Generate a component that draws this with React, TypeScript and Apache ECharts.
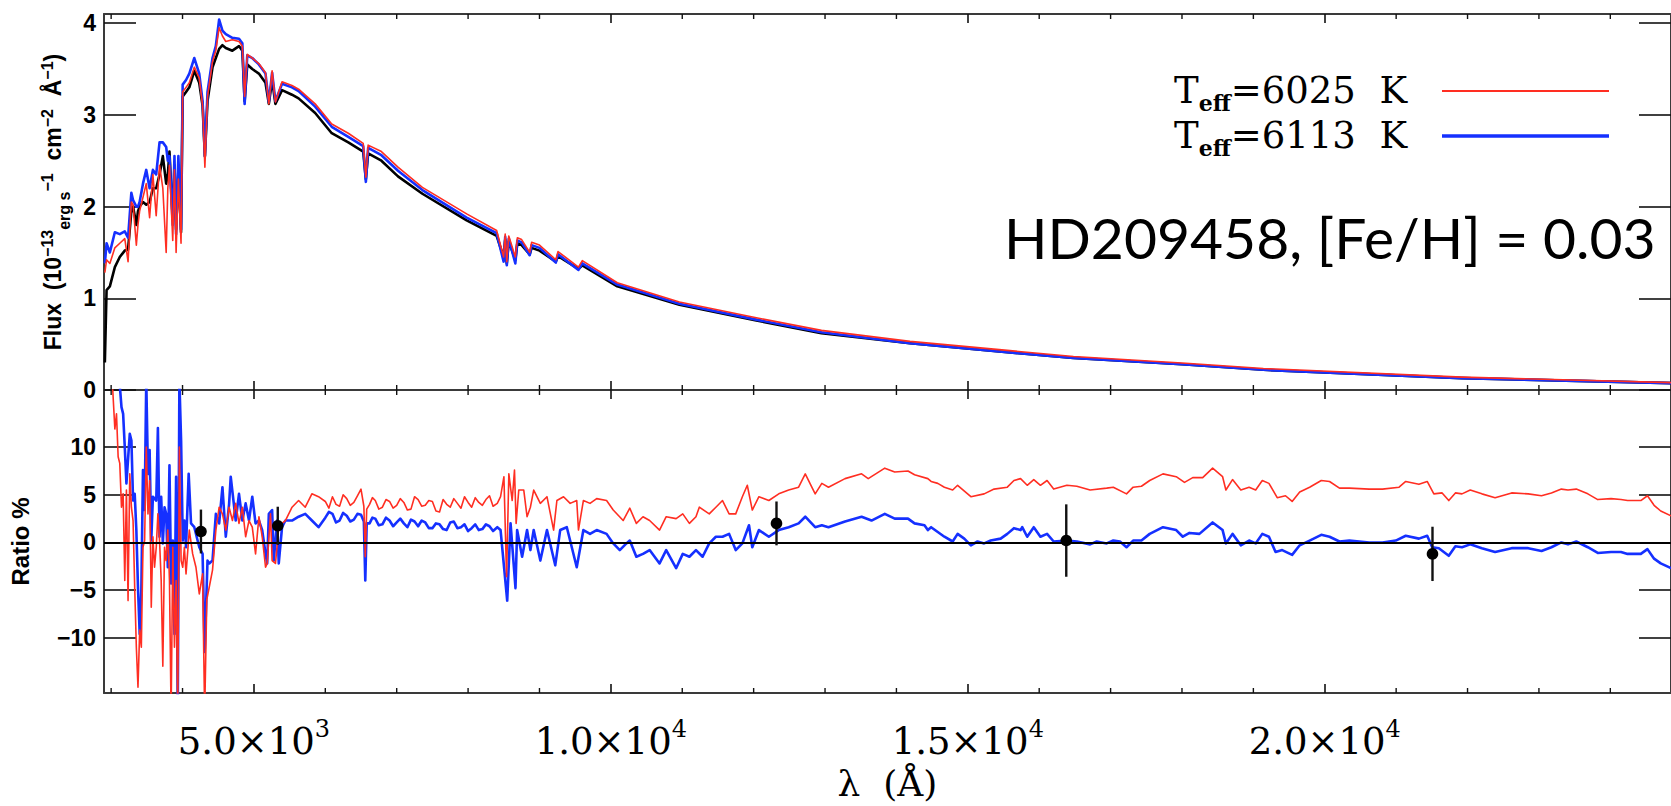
import React, { useEffect, useRef } from 'react';
import * as echarts from 'echarts';

// ---------- data ----------
const FLUX_WAVE = [2912, 2936, 2982, 3052, 3121, 3191, 3237, 3283, 3307, 3353, 3376, 3399, 3446, 3492, 3539, 3585, 3631, 3678, 3724, 3771, 3794, 3817, 3863, 3887, 3910, 3942, 3979, 4002, 4049, 4095, 4165, 4234, 4281, 4313, 4350, 4420, 4466, 4513, 4559, 4606, 4698, 4791, 4838, 4870, 4907, 4977, 5069, 5162, 5209, 5255, 5301, 5394, 5533, 5626, 5858, 6090, 6322, 6531, 6568, 6600, 6786, 7018, 7360, 7980, 8400, 8498, 8520, 8542, 8570, 8662, 8690, 8750, 8863, 8890, 9000, 9229, 9260, 9546, 9600, 10090, 10960, 12020, 12950, 14190, 15440, 16480, 18000, 19140, 21920, 24850];
const FLUX_OBSERVED = [0.30, 1.09, 1.13, 1.34, 1.45, 1.52, 1.53, 1.95, 2.00, 1.80, 1.95, 2.00, 2.05, 2.02, 2.05, 2.20, 2.20, 2.35, 2.55, 2.25, 2.35, 2.60, 1.85, 2.45, 1.75, 2.40, 1.72, 3.20, 3.25, 3.30, 3.48, 3.35, 3.10, 2.55, 3.15, 3.52, 3.62, 3.72, 3.76, 3.73, 3.70, 3.75, 3.70, 3.15, 3.55, 3.50, 3.45, 3.35, 3.12, 3.38, 3.12, 3.27, 3.22, 3.18, 3.02, 2.80, 2.70, 2.60, 2.30, 2.58, 2.50, 2.33, 2.14, 1.85, 1.68, 1.45, 1.64, 1.38, 1.62, 1.42, 1.60, 1.58, 1.48, 1.55, 1.52, 1.40, 1.46, 1.32, 1.36, 1.13, 0.93, 0.76, 0.62, 0.51, 0.42, 0.35, 0.28, 0.22, 0.13, 0.075];
const FLUX_6113 = [1.38, 1.60, 1.50, 1.72, 1.70, 1.73, 1.66, 2.15, 2.07, 2.00, 2.00, 2.05, 2.25, 2.40, 2.20, 2.40, 2.35, 2.70, 2.70, 2.65, 2.50, 2.55, 1.80, 2.55, 1.70, 2.55, 1.75, 3.33, 3.38, 3.45, 3.62, 3.45, 3.15, 2.55, 3.25, 3.62, 3.75, 4.04, 3.92, 3.88, 3.84, 3.83, 3.78, 3.12, 3.65, 3.62, 3.55, 3.45, 3.14, 3.46, 3.15, 3.34, 3.30, 3.26, 3.09, 2.87, 2.76, 2.66, 2.27, 2.64, 2.56, 2.39, 2.18, 1.88, 1.71, 1.40, 1.67, 1.36, 1.65, 1.38, 1.63, 1.61, 1.47, 1.58, 1.55, 1.39, 1.48, 1.31, 1.38, 1.15, 0.94, 0.77, 0.63, 0.51, 0.42, 0.35, 0.28, 0.22, 0.13, 0.075];
const FLUX_6025 = [1.28, 1.42, 1.38, 1.55, 1.60, 1.65, 1.40, 2.05, 2.02, 1.58, 1.80, 1.95, 2.10, 2.25, 1.88, 2.35, 1.90, 2.45, 2.20, 1.50, 2.20, 2.45, 1.63, 2.40, 1.50, 2.30, 1.60, 3.25, 3.30, 3.35, 3.52, 3.40, 3.10, 2.43, 3.20, 3.58, 3.70, 3.95, 3.86, 3.80, 3.82, 3.80, 3.75, 3.20, 3.66, 3.62, 3.56, 3.46, 3.12, 3.48, 3.14, 3.36, 3.32, 3.28, 3.12, 2.90, 2.80, 2.69, 2.32, 2.67, 2.60, 2.43, 2.21, 1.92, 1.74, 1.45, 1.70, 1.40, 1.68, 1.45, 1.66, 1.64, 1.50, 1.61, 1.58, 1.42, 1.51, 1.34, 1.41, 1.17, 0.96, 0.79, 0.65, 0.53, 0.44, 0.365, 0.295, 0.235, 0.14, 0.08];

const RATIO_6025: [number, number][] = [
  [2950, 20], [3019, 16.5], [3052, 11.9], [3075, 13.5], [3098, 9.0], [3121, 8.3], [3145, 3.7], [3168, 5.1], [3191, -4.0], [3214, 5.5],
  [3237, -6.1], [3261, 7.2], [3284, 3.7], [3307, 2.3], [3330, -4.7], [3353, -11.0], [3376, -15.2], [3400, -9.2], [3423, -11.0], [3446, -0.5],
  [3469, 0.2], [3492, 10.0], [3516, 3.0], [3539, 6.5], [3562, -6.8], [3585, 0.6], [3608, -2.6], [3632, -0.5], [3655, 3.0], [3678, 0.2],
  [3701, -4.0], [3724, -13.0], [3748, -0.5], [3771, -1.9], [3794, 1.3], [3817, -4.0], [3840, -18], [3864, -0.5], [3887, -11.0], [3910, -4.0],
  [3933, -18], [3956, 10.0], [3980, -1.9], [4003, -2.6], [4026, -0.5], [4049, -3.3], [4095, 1.3], [4142, -1.2], [4188, -2.6], [4235, -5.4],
  [4281, -3.3], [4310, -18], [4340, -6.0], [4374, -4.7], [4420, -2.9], [4467, 1.3], [4513, 3.7], [4559, 3.0], [4606, 1.3], [4652, 3.7],
  [4699, 2.3], [4745, 4.1], [4791, 2.0], [4838, 3.7], [4884, 0.6], [4931, 2.3], [4977, 1.6], [5023, -1.2], [5070, 2.7], [5116, 0.6],
  [5163, -2.6], [5186, -2.2], [5232, 3.0], [5255, -1.9], [5302, -2.2], [5348, 1.6], [5394, 2.0], [5441, 2.3], [5534, 3.7], [5626, 4.4],
  [5719, 3.7], [5812, 5.1], [5905, 4.8], [6000, 4.3], [6050, 3.6], [6100, 4.8], [6150, 4.0], [6200, 3.8], [6250, 5.0], [6300, 4.6],
  [6350, 3.9], [6400, 4.2], [6450, 4.9], [6500, 5.6], [6540, 3.8], [6560, -1.5], [6580, 3.5], [6620, 4.0], [6660, 4.7], [6700, 4.4],
  [6750, 3.5], [6800, 3.7], [6850, 4.5], [6900, 4.3], [6950, 3.6], [7000, 3.9], [7050, 4.6], [7100, 4.2], [7150, 3.4], [7200, 3.5],
  [7250, 4.8], [7300, 4.5], [7350, 3.8], [7400, 3.9], [7450, 4.4], [7500, 4.3], [7550, 3.3], [7600, 3.2], [7650, 4.5], [7700, 4.0],
  [7750, 3.7], [7800, 4.6], [7850, 4.1], [7900, 3.6], [7950, 4.8], [8000, 4.2], [8050, 3.7], [8100, 4.7], [8150, 4.2], [8200, 3.9],
  [8250, 4.5], [8300, 4.9], [8350, 3.8], [8409, 4.1], [8455, 4.8], [8502, 6.9], [8539, -3.6], [8571, 7.2], [8618, 4.4], [8650, 7.6],
  [8673, 2.0], [8710, 5.5], [8780, 5.5], [8826, 2.7], [8873, 3.7], [8919, 5.5], [9012, 4.1], [9105, 4.8], [9198, 1.3], [9244, 4.4],
  [9337, 4.8], [9430, 4.1], [9522, 4.4], [9546, 1.3], [9615, 4.4], [9708, 4.1], [9801, 4.6], [9940, 4.4], [10033, 3.4], [10172, 2.3],
  [10265, 3.6], [10357, 2.0], [10450, 2.7], [10543, 2.3], [10682, 1.3], [10775, 2.7], [10914, 2.5], [11007, 3.0], [11100, 2.0], [11192, 2.7],
  [11239, 3.7], [11378, 3.0], [11471, 3.7], [11564, 4.4], [11656, 3.0], [11749, 3.0], [11842, 4.8], [11911, 6.0], [11981, 3.4], [12074, 4.8],
  [12213, 4.4], [12352, 5.1], [12491, 5.5], [12630, 5.8], [12723, 7.2], [12862, 5.1], [12955, 6.2], [13048, 5.8], [13280, 6.7], [13512, 7.2],
  [13605, 6.7], [13837, 7.8], [13976, 7.4], [14162, 7.5], [14254, 7.1], [14440, 6.7], [14486, 6.4], [14579, 6.2], [14672, 5.8], [14788, 5.5],
  [14857, 6.0], [15043, 4.8], [15229, 5.1], [15368, 5.6], [15553, 5.8], [15646, 6.5], [15739, 6.7], [15832, 6.0], [15924, 6.6], [16017, 6.0],
  [16110, 6.5], [16203, 5.6], [16388, 6.0], [16527, 5.9], [16713, 5.5], [16945, 5.7], [17038, 5.8], [17223, 5.1], [17316, 5.8], [17432, 5.9],
  [17548, 6.5], [17734, 7.2], [17919, 6.9], [18035, 6.3], [18151, 6.8], [18290, 6.8], [18429, 7.8], [18569, 6.9], [18615, 5.5], [18708, 6.6],
  [18824, 5.5], [18940, 5.8], [19032, 5.5], [19125, 6.5], [19218, 6.2], [19334, 4.7], [19450, 4.9], [19543, 4.3], [19649, 5.3], [19788, 5.8],
  [19951, 6.5], [20067, 6.4], [20206, 5.7], [20345, 5.7], [20623, 5.6], [20809, 5.6], [21041, 5.8], [21134, 6.4], [21319, 6.1], [21435, 6.4],
  [21528, 5.1], [21644, 5.2], [21737, 4.4], [21830, 5.2], [21922, 5.1], [22038, 5.5], [22201, 5.1], [22386, 4.7], [22618, 5.2], [22850, 5.1],
  [23036, 4.9], [23175, 5.2], [23314, 5.6], [23407, 5.5], [23523, 5.6], [23685, 5.1], [23824, 4.5], [24010, 4.6], [24149, 4.5], [24242, 4.4],
  [24427, 4.4], [24520, 4.9], [24613, 3.9], [24706, 3.3], [24850, 2.8],
];

const RATIO_6113: [number, number][] = [
  [2950, 20], [3121, 16.5], [3145, 14.2], [3168, 13.5], [3191, 10.0], [3214, 6.2], [3261, 11.4], [3284, 10.7], [3307, 4.4], [3330, 5.1],
  [3353, 1.3], [3376, -4.7], [3400, -9.6], [3423, -5.0], [3446, 7.6], [3469, 3.4], [3492, 17], [3516, 7.2], [3539, 9.7], [3562, 0.2],
  [3585, 4.8], [3632, 4.4], [3655, 12.0], [3678, 0.6], [3701, 4.8], [3724, -0.1], [3748, 3.7], [3771, 3.0], [3794, -2.6], [3817, 8.1],
  [3840, -4.3], [3864, 0.2], [3887, -9.6], [3910, 6.9], [3933, -18], [3956, 17], [3980, 10.7], [4003, 0.2], [4026, 2.3], [4049, -0.5],
  [4086, 7.2], [4119, 2.0], [4165, 1.6], [4235, -0.5], [4281, -1.2], [4310, -11.5], [4350, -1.9], [4374, -2.2], [4420, -1.9], [4467, 3.0],
  [4513, 2.0], [4559, 5.8], [4606, 0.6], [4652, 4.0], [4675, 6.9], [4745, 2.3], [4791, 5.1], [4838, 2.3], [4884, 4.1], [4931, 2.3],
  [4977, 4.8], [5023, 2.0], [5070, 2.3], [5116, 1.3], [5163, -1.2], [5186, -2.2], [5209, 3.0], [5255, 3.4], [5278, -1.9], [5325, 2.3],
  [5348, -2.2], [5394, 1.6], [5441, 2.3], [5534, 2.3], [5626, 2.7], [5719, 3.0], [5812, 2.3], [5905, 1.6], [6000, 2.6], [6050, 3.2],
  [6100, 3.0], [6150, 2.1], [6200, 2.3], [6250, 3.1], [6300, 2.8], [6350, 2.2], [6400, 2.4], [6450, 3.0], [6500, 2.9], [6540, 2.2],
  [6560, -4.0], [6580, 2.0], [6620, 2.0], [6660, 2.6], [6700, 2.5], [6750, 1.8], [6800, 1.9], [6850, 2.6], [6900, 2.3], [6950, 1.7],
  [7000, 2.1], [7050, 2.5], [7100, 2.0], [7150, 1.6], [7200, 2.4], [7250, 2.2], [7300, 1.7], [7350, 2.3], [7400, 2.1], [7450, 1.5],
  [7500, 1.5], [7550, 2.0], [7600, 1.9], [7650, 1.4], [7700, 1.3], [7750, 2.1], [7800, 2.2], [7850, 1.5], [7900, 1.6], [7950, 1.9],
  [8000, 1.2], [8050, 1.5], [8100, 1.9], [8150, 1.3], [8200, 1.4], [8250, 1.9], [8300, 1.7], [8350, 1.2], [8409, 1.6], [8455, 1.3],
  [8548, -6.1], [8595, 2.0], [8664, -4.8], [8687, 1.3], [8757, -1.5], [8826, 1.3], [8873, -0.8], [8919, 1.3], [9012, -1.9], [9105, 1.3],
  [9221, -2.4], [9290, 1.3], [9383, 1.6], [9522, -2.6], [9615, 1.3], [9708, 0.9], [9801, 1.3], [9940, 0.9], [10033, -0.1], [10125, -0.8],
  [10218, -0.1], [10265, 0.2], [10357, -1.5], [10450, -1.2], [10543, -0.8], [10682, -2.2], [10775, -0.8], [10914, -2.7], [11007, -1.2], [11100, -1.5],
  [11192, -0.8], [11285, -1.5], [11378, -0.1], [11471, 0.6], [11564, 0.6], [11656, 0.9], [11749, -0.8], [11842, -0.1], [11935, 1.8], [11981, -0.5],
  [12074, 1.3], [12213, 0.6], [12352, 1.3], [12491, 1.6], [12630, 2.0], [12723, 2.7], [12862, 1.6], [12955, 1.8], [13048, 1.6], [13280, 2.2],
  [13512, 2.7], [13651, 2.3], [13837, 3.0], [13976, 2.5], [14162, 2.5], [14254, 2.0], [14393, 1.8], [14440, 1.3], [14486, 1.6], [14579, 1.1],
  [14672, 0.6], [14788, 0.1], [14857, 0.9], [14950, 0.4], [15043, -0.3], [15136, 0.1], [15229, -0.1], [15321, 0.2], [15460, 0.4], [15553, 0.9],
  [15646, 1.5], [15739, 1.3], [15762, 1.6], [15832, 0.6], [15924, 1.6], [16017, 0.6], [16110, 0.9], [16203, 0.1], [16388, 0.2], [16527, 0.1],
  [16713, -0.2], [16806, 0.1], [16945, -0.1], [17038, 0.2], [17131, 0.1], [17223, -0.5], [17316, 0.2], [17432, 0.2], [17548, 0.9], [17734, 1.6],
  [17919, 1.3], [18012, 0.6], [18105, 1.0], [18244, 0.9], [18429, 2.1], [18569, 1.3], [18615, -0.1], [18708, 0.9], [18824, -0.3], [18940, 0.2],
  [19032, -0.1], [19125, 0.9], [19218, 0.6], [19311, -1.0], [19404, -0.8], [19543, -1.3], [19649, -0.3], [19788, 0.2], [19951, 0.8], [20067, 0.6],
  [20206, 0.1], [20345, 0.2], [20623, 0.0], [20809, 0.0], [20995, 0.2], [21134, 0.7], [21319, 0.4], [21435, 0.7], [21505, -0.5], [21598, -0.6],
  [21737, -1.4], [21830, -0.4], [21922, -0.5], [22038, -0.2], [22201, -0.6], [22386, -1.0], [22618, -0.6], [22850, -0.6], [23036, -0.9], [23175, -0.5],
  [23314, 0.0], [23407, -0.2], [23523, 0.1], [23685, -0.5], [23824, -1.1], [24010, -1.0], [24149, -1.0], [24242, -1.2], [24427, -1.2], [24520, -0.7],
  [24613, -1.7], [24706, -2.2], [24850, -2.7],
];

const PHOT_WAVE = [4258, 5334, 12320, 16379, 21509];
const PHOT_RATIO = [1.15, 1.75, 2.0, 0.2, -1.2];
const PHOT_ERR = [2.3, 2.0, 2.3, 3.8, 2.85];

const X_MIN = 2900;
const X_MAX = 24850;
const X_MAJOR_TICKS = [5000, 10000, 15000, 20000];
const X_MINOR_TICKS = [3000, 4000, 6000, 7000, 8000, 9000, 11000, 12000, 13000, 14000, 16000, 17000, 18000, 19000, 21000, 22000, 23000, 24000];
const FLUX_TICKS = [0, 1, 2, 3, 4];
const RATIO_TICKS = [-10, -5, 0, 5, 10];
const MODEL_TEFF = ['6025', '6113'];
const STAR_LABEL = 'HD209458, [Fe/H] = 0.03';

const RED = '#ff2e22';
const BLUE = '#1530ff';

const GRID_LEFT = 104;
const GRID_WIDTH = 1577;

export default function App() {
  const ref = useRef<HTMLDivElement>(null);

  useEffect(() => {
    if (!ref.current) return;
    const chart = echarts.init(ref.current, undefined, { renderer: 'svg' });

    const minus = (v: number) => String(v).replace('-', '\u2212');
    const sci = (v: number) => {
      const e = Math.floor(Math.log10(v));
      const m = v / Math.pow(10, e);
      return `{m|${m.toFixed(1)}\u00d710}{s|${e}}`;
    };

    const frame = { show: true, onZero: false, lineStyle: { color: '#3a3a3a', width: 2 } };
    const xCommon = (gridIndex: number, position: 'top' | 'bottom', labels: boolean) => ({
      type: 'value', gridIndex, position, min: X_MIN, max: X_MAX,
      axisLine: frame,
      splitLine: { show: false },
      axisTick: { show: true, inside: true, length: 9, customValues: X_MAJOR_TICKS, lineStyle: { color: '#111', width: 1.6 } },
      axisLabel: labels
        ? {
            show: true, customValues: X_MAJOR_TICKS, margin: 24, formatter: sci,
            rich: {
              m: { fontFamily: 'DejaVu Serif', fontSize: 37, color: '#000', padding: [6, 0, 0, 0], verticalAlign: 'bottom' },
              s: { fontFamily: 'DejaVu Serif', fontSize: 24, color: '#000', verticalAlign: 'top' },
            },
          }
        : { show: false },
      ...(labels
        ? {
            name: '\u03bb  (\u00c5)', nameLocation: 'middle', nameGap: 72,
            nameTextStyle: { fontFamily: 'DejaVu Serif', fontSize: 36, color: '#000' },
          }
        : {}),
    });

    const yLabel = { fontFamily: 'Liberation Sans', fontWeight: 'bold', fontSize: 23, color: '#000', margin: 8 };
    const yCommon = (gridIndex: number, position: 'left' | 'right', min: number, max: number, ticks: number[], labels: boolean, extra: any = {}) => ({
      type: 'value', gridIndex, position, min, max,
      axisLine: frame,
      splitLine: { show: false },
      axisTick: { show: true, inside: true, length: 32, customValues: ticks, lineStyle: { color: '#111', width: 1.6 } },
      axisLabel: labels ? { show: true, customValues: ticks, formatter: minus, ...yLabel } : { show: false },
      ...extra,
    });

    const minorTicks = (gi: number) => ({
      type: 'custom', xAxisIndex: gi * 2, yAxisIndex: gi * 2, silent: true, clip: false, z: 3,
      data: X_MINOR_TICKS.map((v) => [v, 0]),
      renderItem: (params: any, api: any) => {
        const x = api.coord([api.value(0), 0])[0];
        const cs = params.coordSys;
        const st = { stroke: '#111', lineWidth: 1.4 };
        return {
          type: 'group',
          children: [
            { type: 'line', shape: { x1: x, y1: cs.y, x2: x, y2: cs.y + 5 }, style: st },
            { type: 'line', shape: { x1: x, y1: cs.y + cs.height, x2: x, y2: cs.y + cs.height - 5 }, style: st },
          ],
        };
      },
    });

    const legendRich = {
      t: { fontFamily: 'DejaVu Serif', fontSize: 37, fill: '#000', padding: [0, 0, 5, 0], verticalAlign: 'bottom' },
      s: { fontFamily: 'DejaVu Serif', fontSize: 22, fontWeight: 'bold', fill: '#000', verticalAlign: 'bottom' },
    };

    const option: any = {
      animation: false,
      backgroundColor: '#fff',
      grid: [
        { left: GRID_LEFT, top: 14, width: GRID_WIDTH, height: 376 },
        { left: GRID_LEFT, top: 390, width: GRID_WIDTH, height: 303 },
      ],
      xAxis: [
        xCommon(0, 'bottom', false),
        xCommon(0, 'top', false),
        xCommon(1, 'bottom', true),
        xCommon(1, 'top', false),
      ],
      yAxis: [
        yCommon(0, 'left', 0, 4.1, FLUX_TICKS, true, {
          interval: 1,
          name: '{b|Flux  (10}{sup|\u221213}{sub|erg s}{sup|\u22121}{b|  cm}{sup|\u22122}{b|  \u00c5}{sup|\u22121}{b|)}',
          nameLocation: 'middle', nameRotate: 90, nameGap: 30,
          nameTextStyle: {
            rich: {
              b: { fontFamily: 'Liberation Sans', fontWeight: 'bold', fontSize: 23, color: '#000', padding: [2, 0, 8, 0] },
              sup: { fontFamily: 'Liberation Sans', fontWeight: 'bold', fontSize: 16, color: '#000', verticalAlign: 'top' },
              sub: { fontFamily: 'Liberation Sans', fontWeight: 'bold', fontSize: 16, color: '#000', verticalAlign: 'bottom' },
            },
          },
        }),
        yCommon(0, 'right', 0, 4.1, FLUX_TICKS, false, { interval: 1 }),
        yCommon(1, 'left', -15.8, 16, RATIO_TICKS, true, {
          name: 'Ratio %', nameLocation: 'middle', nameRotate: 90, nameGap: 72,
          nameTextStyle: { fontFamily: 'Liberation Sans', fontWeight: 'bold', fontSize: 24, color: '#000' },
        }),
        yCommon(1, 'right', -15.8, 16, RATIO_TICKS, false),
      ],
      series: [
        {
          name: 'Observed', type: 'line', xAxisIndex: 0, yAxisIndex: 0, showSymbol: false, symbol: 'none',
          data: FLUX_WAVE.map((w, i) => [w, FLUX_OBSERVED[i]]),
          lineStyle: { color: '#000', width: 2.6, join: 'round' }, z: 2,
        },
        {
          name: `Teff=${MODEL_TEFF[1]} K`, type: 'line', xAxisIndex: 0, yAxisIndex: 0, showSymbol: false, symbol: 'none',
          data: FLUX_WAVE.map((w, i) => [w, FLUX_6113[i]]),
          lineStyle: { color: BLUE, width: 2.6, join: 'round' }, z: 3,
        },
        {
          name: `Teff=${MODEL_TEFF[0]} K`, type: 'line', xAxisIndex: 0, yAxisIndex: 0, showSymbol: false, symbol: 'none',
          data: FLUX_WAVE.map((w, i) => [w, FLUX_6025[i]]),
          lineStyle: { color: RED, width: 1.6, join: 'round' }, z: 4,
        },
        {
          name: `Ratio ${MODEL_TEFF[1]}`, type: 'line', xAxisIndex: 2, yAxisIndex: 2, showSymbol: false, symbol: 'none',
          data: RATIO_6113,
          lineStyle: { color: BLUE, width: 2.6, join: 'round' }, z: 3,
          markLine: {
            silent: true, symbol: ['none', 'none'], label: { show: false },
            lineStyle: { color: '#000', width: 2, type: 'solid' },
            data: [{ yAxis: 0 }],
          },
        },
        {
          name: `Ratio ${MODEL_TEFF[0]}`, type: 'line', xAxisIndex: 2, yAxisIndex: 2, showSymbol: false, symbol: 'none',
          data: RATIO_6025,
          lineStyle: { color: RED, width: 1.6, join: 'round' }, z: 4,
        },
        {
          name: 'Photometry', type: 'custom', xAxisIndex: 2, yAxisIndex: 2, z: 6,
          data: PHOT_WAVE.map((w, i) => [w, PHOT_RATIO[i], PHOT_ERR[i]]),
          encode: { x: 0, y: 1 },
          renderItem: (params: any, api: any) => {
            const x = api.value(0), y = api.value(1), e = api.value(2);
            const c = api.coord([x, y]);
            const hi = api.coord([x, y + e]);
            const lo = api.coord([x, y - e]);
            return {
              type: 'group',
              children: [
                { type: 'line', shape: { x1: c[0], y1: hi[1], x2: c[0], y2: lo[1] }, style: { stroke: '#111', lineWidth: 2.4 } },
                { type: 'circle', shape: { cx: c[0], cy: c[1], r: 5.8 }, style: { fill: '#000' } },
              ],
            };
          },
        },
        minorTicks(0),
        minorTicks(1),
      ],
      graphic: [
        {
          type: 'text', x: 1174, y: 114,
          style: { text: `{t|T}{s|eff}{t|=${MODEL_TEFF[0]}  K}`, rich: legendRich, fill: '#000', align: 'left', verticalAlign: 'bottom', textAlign: 'left', textVerticalAlign: 'bottom' },
        },
        {
          type: 'text', x: 1174, y: 159,
          style: { text: `{t|T}{s|eff}{t|=${MODEL_TEFF[1]}  K}`, rich: legendRich, fill: '#000', align: 'left', verticalAlign: 'bottom', textAlign: 'left', textVerticalAlign: 'bottom' },
        },
        { type: 'line', shape: { x1: 1442, y1: 91, x2: 1609, y2: 91 }, style: { stroke: RED, lineWidth: 2 } },
        { type: 'line', shape: { x1: 1442, y1: 136, x2: 1609, y2: 136 }, style: { stroke: BLUE, lineWidth: 3.5 } },
        {
          type: 'text', x: 1004, y: 237,
          style: { text: STAR_LABEL, font: '400 57px Lato', fill: '#000', align: 'left', verticalAlign: 'middle', textAlign: 'left', textVerticalAlign: 'middle' },
        },
      ],
    };

    chart.setOption(option);
    return () => chart.dispose();
  }, []);

  return <div ref={ref} style={{ position: 'absolute', left: 0, top: 0, width: 1671, height: 806, background: '#fff' }} />;
}
